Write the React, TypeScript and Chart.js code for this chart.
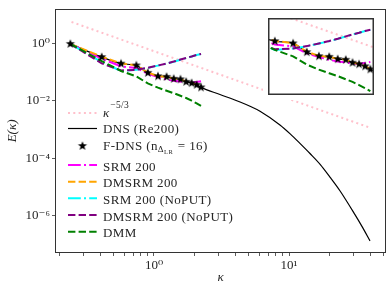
import { useEffect, useRef } from 'react';
import { Chart, registerables } from 'chart.js';

Chart.register(...registerables);

// ---------- data ----------
const kappa = [0.24, 0.41, 0.57, 0.74, 0.90, 1.07, 1.24, 1.40, 1.57, 1.73, 1.90, 2.07, 2.23];
const eFDNS = [0.95, 0.33, 0.195, 0.168, 0.093, 0.0707, 0.0677, 0.0579, 0.0555, 0.0454, 0.041, 0.0356, 0.029];
const eSRM = [0.95, 0.29, 0.156, 0.138, 0.0863, 0.0665, 0.0555, 0.049, 0.0462, 0.0435, 0.0423, 0.0449, 0.0476];
const eDMSRM = [0.95, 0.34, 0.2, 0.17, 0.096, 0.072, 0.068, 0.059, 0.056, 0.046, 0.0415, 0.036, 0.0295];
const eSRMNoPUT = [0.95, 0.22, 0.108, 0.12, 0.138, 0.166, 0.195, 0.228, 0.268, 0.305, 0.345, 0.39, 0.42];
const eDMSRMNoPUT = [0.95, 0.2, 0.113, 0.119, 0.14, 0.168, 0.197, 0.23, 0.27, 0.307, 0.347, 0.392, 0.422];
const eDMM = [0.95, 0.24, 0.108, 0.07, 0.04, 0.0285, 0.0222, 0.0183, 0.0148, 0.0124, 0.01, 0.0081, 0.0066];

const kDNS = [0.24, 0.41, 0.57, 0.74, 0.90, 1.07, 1.24, 1.40, 1.57, 1.73, 1.90, 2.07, 2.23, 3.08, 4.34, 5.14, 6.10, 8.57, 10.2, 12.1, 14.3, 17.0, 20.1, 23.9, 30.8, 34.7, 39.8];
const eDNS = [0.95, 0.33, 0.195, 0.168, 0.093, 0.0707, 0.0677, 0.0579, 0.0555, 0.0454, 0.041, 0.0356, 0.029, 0.0165, 0.009, 0.0064, 0.0043, 0.00143, 7.0e-4, 3.2e-4, 1.45e-4, 6.1e-5, 2.2e-5, 7.2e-6, 1.08e-6, 4.2e-7, 1.32e-7];

const kRef = [0.245, 40];
const eRef = [5.5, 0.00114];

const xTickValues = [0.2, 0.3, 0.4, 0.5, 0.6, 0.7, 0.8, 0.9, 1, 2, 3, 4, 5, 6, 7, 8, 9, 10, 20, 30, 40, 50];
const xTickLabels: Record<string, string> = { '1': '10⁰', '10': '10¹' };
const yTickValues = [1e-6, 1e-4, 1e-2, 1];
const yTickLabels = ['10⁻⁶', '10⁻⁴', '10⁻²', '10⁰'];

const FONT = '"Liberation Serif", "DejaVu Serif", serif';
const TEXT = '#262626';

const styles = {
  ref: { color: '#ffc0cb', width: 2, dash: [2, 3.3] },
  dns: { color: '#000000', width: 1.2, dash: [] as number[] },
  srm: { color: '#ff00ff', width: 2, dash: [12.8, 3.2, 2, 3.2] },
  dmsrm: { color: '#ffa500', width: 2, dash: [7.4, 3.2] },
  srmNo: { color: '#00ffff', width: 2, dash: [12.8, 3.2, 2, 3.2] },
  dmsrmNo: { color: '#800080', width: 2, dash: [7.4, 3.2] },
  dmm: { color: '#008000', width: 2, dash: [7.4, 3.2] },
};

function makeStar(r: number) {
  const size = Math.ceil(r * 2) + 2;
  const c = document.createElement('canvas');
  c.width = size;
  c.height = size;
  const g = c.getContext('2d')!;
  g.translate(size / 2, size / 2);
  g.beginPath();
  for (let i = 0; i < 10; i++) {
    const rad = i % 2 === 0 ? r : r * 0.42;
    const a = -Math.PI / 2 + (i * Math.PI) / 5;
    g.lineTo(rad * Math.cos(a), rad * Math.sin(a));
  }
  g.closePath();
  g.fillStyle = '#000';
  g.fill();
  return c;
}

const pts = (ks: number[], es: number[]) => ks.map((k, i) => ({ x: k, y: es[i] }));

function lineDs(label: string, ks: number[], es: number[], st: any, order: number, extra: any = {}) {
  return {
    label,
    data: pts(ks, es),
    borderColor: st.color,
    backgroundColor: st.color,
    borderWidth: st.width,
    borderDash: st.dash,
    pointRadius: 0,
    fill: false,
    order,
    ...extra,
  };
}

function buildDatasets(star: HTMLCanvasElement) {
  return [
    lineDs('κ^-5/3', kRef, eRef, styles.ref, 8),
    lineDs('DNS (Re200)', kDNS, eDNS, styles.dns, 7, { cubicInterpolationMode: 'monotone' }),
    {
      label: 'F-DNS',
      data: pts(kappa, eFDNS),
      showLine: false,
      pointStyle: star,
      pointRadius: 4,
      order: 0,
    },
    lineDs('SRM 200', kappa, eSRM, styles.srm, 6),
    lineDs('DMSRM 200', kappa, eDMSRM, styles.dmsrm, 5),
    lineDs('SRM 200 (NoPUT)', kappa, eSRMNoPUT, styles.srmNo, 4),
    lineDs('DMSRM 200 (NoPUT)', kappa, eDMSRMNoPUT, styles.dmsrmNo, 3),
    lineDs('DMM', kappa, eDMM, styles.dmm, 2),
  ];
}

function makeFramePlugin(lineWidth: number) {
  return {
    id: 'frame',
    beforeDraw(chart: any) {
      const { ctx, width, height } = chart;
      ctx.save();
      ctx.fillStyle = '#ffffff';
      ctx.fillRect(0, 0, width, height);
      ctx.restore();
    },
    afterDraw(chart: any) {
      const { ctx, chartArea: a } = chart;
      ctx.save();
      ctx.strokeStyle = '#333333';
      ctx.lineWidth = lineWidth;
      const h = lineWidth / 2;
      if (lineWidth > 1) {
        ctx.strokeRect(a.left + h, a.top + h, a.right - a.left - lineWidth, a.bottom - a.top - lineWidth);
      } else {
        ctx.strokeRect(Math.round(a.left) - 0.5, Math.round(a.top) - 0.5, Math.round(a.right - a.left) + 1, Math.round(a.bottom - a.top) + 1);
      }
      ctx.restore();
    },
  };
}

function drawSample(ctx: CanvasRenderingContext2D, st: any, y: number) {
  ctx.save();
  ctx.strokeStyle = st.color;
  ctx.lineWidth = st.width;
  ctx.setLineDash(st.dash);
  ctx.beginPath();
  ctx.moveTo(68, y);
  ctx.lineTo(97, y);
  ctx.stroke();
  ctx.restore();
}

function makeLegendPlugin(star: HTMLCanvasElement) {
  return {
    id: 'texLegend',
    afterDraw(chart: any) {
      const ctx: any = chart.ctx;
      const tx = 103;
      ctx.save();
      ctx.fillStyle = TEXT;
      ctx.textBaseline = 'alphabetic';
      ctx.textAlign = 'left';
      ctx.letterSpacing = '0.4px';

      // kappa^-5/3
      drawSample(ctx, styles.ref, 113);
      ctx.font = `italic 13px ${FONT}`;
      ctx.fillText('κ', tx, 116.5);
      const kw = ctx.measureText('κ').width;
      ctx.font = `9.5px ${FONT}`;
      ctx.fillText('−5/3', tx + kw + 0.5, 108);

      // DNS
      drawSample(ctx, styles.dns, 128.5);
      ctx.font = `13px ${FONT}`;
      ctx.fillText('DNS (Re200)', tx, 133);

      // F-DNS
      ctx.drawImage(star, 82.5 - star.width / 2, 146 - star.height / 2);
      ctx.font = `13px ${FONT}`;
      let x = tx;
      const s1 = 'F-DNS (n';
      ctx.fillText(s1, x, 149.5);
      x += ctx.measureText(s1).width;
      ctx.font = `9px ${FONT}`;
      ctx.fillText('Δ', x, 152);
      x += ctx.measureText('Δ').width;
      ctx.font = `6.5px ${FONT}`;
      ctx.fillText('LR', x, 154);
      x += ctx.measureText('LR').width + 1;
      ctx.font = `13px ${FONT}`;
      ctx.fillText(' = 16)', x, 149.5);

      const rows: [any, string, number][] = [
        [styles.srm, 'SRM 200', 165],
        [styles.dmsrm, 'DMSRM 200', 181.7],
        [styles.srmNo, 'SRM 200 (NoPUT)', 198.3],
        [styles.dmsrmNo, 'DMSRM 200 (NoPUT)', 215],
        [styles.dmm, 'DMM', 231.7],
      ];
      for (const [st, label, y] of rows) {
        drawSample(ctx, st, y);
        ctx.font = `13px ${FONT}`;
        ctx.fillText(label, tx, y + 5.5);
      }
      ctx.restore();
    },
  };
}

export default function App() {
  const mainRef = useRef<HTMLCanvasElement>(null);
  const insetRef = useRef<HTMLCanvasElement>(null);

  useEffect(() => {
    const star = makeStar(4.8);

    const main = new Chart(mainRef.current!, {
      type: 'line',
      data: { datasets: buildDatasets(star) as any },
      plugins: [makeFramePlugin(1), makeLegendPlugin(star)],
      options: {
        animation: false,
        responsive: false,
        devicePixelRatio: 1,
        layout: { padding: { left: 0, right: 7, top: 6, bottom: 0 } },
        plugins: { legend: { display: false }, tooltip: { enabled: false } },
        scales: {
          x: {
            type: 'logarithmic',
            min: 0.188,
            max: 51.4,
            afterBuildTicks: (s: any) => {
              s.ticks = xTickValues.map((v) => ({ value: v }));
            },
            afterFit: (s: any) => {
              s.height = 41;
            },
            ticks: {
              autoSkip: false,
              maxRotation: 0,
              padding: 2,
              color: TEXT,
              font: { family: FONT, size: 13 },
              callback: (v: any) => xTickLabels[String(v)] ?? '',
            },
            grid: { drawOnChartArea: false, drawTicks: true, tickLength: 4, tickColor: '#333333', tickWidth: 0.8 },
            border: { display: false },
            title: { display: true, text: 'κ', color: TEXT, font: { family: FONT, size: 13, style: 'italic' }, padding: { top: 0, bottom: 8 } },
          },
          y: {
            type: 'logarithmic',
            min: 5.4e-8,
            max: 14.6,
            afterBuildTicks: (s: any) => {
              s.ticks = yTickValues.map((v) => ({ value: v }));
            },
            afterFit: (s: any) => {
              s.width = 56;
            },
            ticks: {
              autoSkip: false,
              padding: 2,
              color: TEXT,
              font: { family: FONT, size: 13 },
              callback: (v: any) => {
                const i = yTickValues.findIndex((t) => Math.abs(Math.log10(t) - Math.log10(v)) < 1e-6);
                return i >= 0 ? yTickLabels[i] : '';
              },
            },
            grid: { drawOnChartArea: false, drawTicks: true, tickLength: 4, tickColor: '#333333', tickWidth: 0.8 },
            border: { display: false },
            title: { display: true, text: 'E(κ)', color: TEXT, font: { family: FONT, size: 13, style: 'italic' }, padding: { top: 5, bottom: 0 } },
          },
        },
      } as any,
    });

    const inset = new Chart(insetRef.current!, {
      type: 'line',
      data: { datasets: buildDatasets(star) as any },
      plugins: [makeFramePlugin(1.5)],
      options: {
        animation: false,
        responsive: false,
        devicePixelRatio: 1,
        layout: { padding: 0 },
        plugins: { legend: { display: false }, tooltip: { enabled: false } },
        scales: {
          x: { type: 'logarithmic', min: 0.517, max: 2.35, display: false },
          y: { type: 'logarithmic', min: 0.0051, max: 0.94, display: false },
        },
      } as any,
    });

    return () => {
      main.destroy();
      inset.destroy();
    };
  }, []);

  return (
    <div style={{ position: 'fixed', left: 0, top: 0, width: 392, height: 293, background: '#fff' }}>
      <canvas ref={mainRef} width={392} height={293} style={{ position: 'absolute', left: 0, top: 0, width: 392, height: 293 }} />
      <canvas ref={insetRef} width={116} height={87} style={{ position: 'absolute', left: 263, top: 13, width: 116, height: 87 }} />
    </div>
  );
}
